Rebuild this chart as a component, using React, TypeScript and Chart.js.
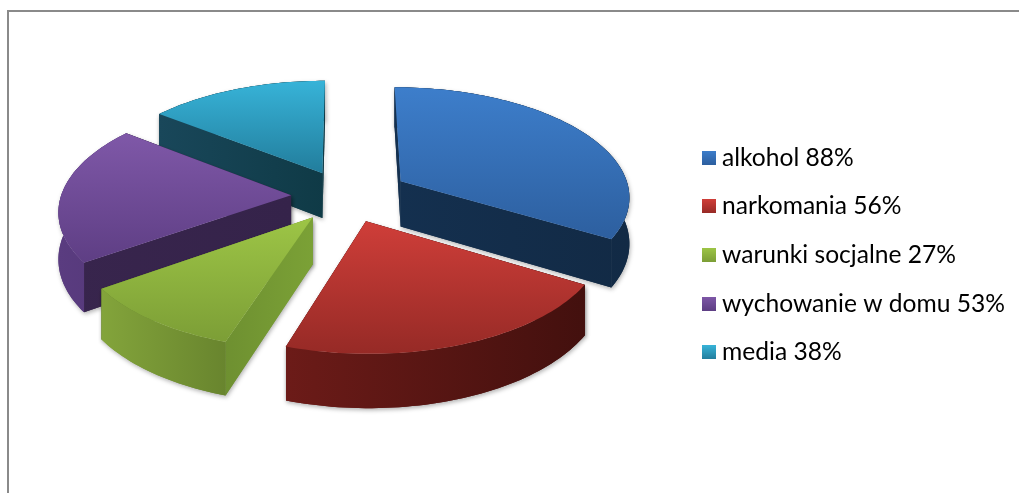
import React, { useEffect, useRef } from "react";
import { Chart, registerables } from "chart.js";

Chart.register(...registerables);

const categories = ["alkohol", "narkomania", "warunki socjalne", "wychowanie w domu", "media"];
const percentValues = [88, 56, 27, 53, 38];

const topLight = ["#3d7ecb", "#cf3e39", "#9dc546", "#7f58a8", "#37b3d8"];
const topDark = ["#2d5f9f", "#962a26", "#7c9e36", "#5e3e84", "#227d9c"];
const outerWallLeft = ["#14304f", "#6c1b18", "#83a43b", "#5a3c80", "#19475a"];
const outerWallRight = ["#122a45", "#43100e", "#566f25", "#472e66", "#0f3a46"];
const radialWallLeft = ["#14304f", "#6c1b18", "#5c7829", "#38254d", "#19475a"];
const radialWallRight = ["#122a45", "#43100e", "#7ba136", "#35234a", "#0f3a46"];

const PLANE_R = 230;
const CENTER_X = 346;
const CENTER_Y = 196;
const TILT = 0.475;
const PERSPECTIVE = 8;
const DEPTH = 46;

function project(x: number, y: number, lift = 0) {
  const s = (PERSPECTIVE * PLANE_R) / (PERSPECTIVE * PLANE_R - y);
  return { x: CENTER_X + x * s, y: CENTER_Y + TILT * y * s + lift * s };
}

function makeMarker(i: number) {
  const c = document.createElement("canvas");
  c.width = 14;
  c.height = 14;
  const g = c.getContext("2d")!;
  const grad = g.createLinearGradient(0, 0, 0, 14);
  grad.addColorStop(0, topLight[i]);
  grad.addColorStop(1, topDark[i]);
  g.fillStyle = grad;
  g.fillRect(0, 0, 14, 14);
  return c;
}

const pie3d = {
  id: "pie3d",
  beforeDatasetDraw(chart: any) {
    const ctx = chart.ctx;
    const arcs = chart.getDatasetMeta(0).data as any[];
    const pieces = arcs.map((arc, i) => {
      const scale = PLANE_R / arc.outerRadius;
      const mid = (arc.startAngle + arc.endAngle) / 2;
      const off = (arc.options.offset || 0) * scale;
      const ox = Math.cos(mid) * off;
      const oy = Math.sin(mid) * off;
      const steps = Math.max(8, Math.ceil((arc.endAngle - arc.startAngle) * 40));
      const rim: { x: number; y: number }[] = [];
      for (let k = 0; k <= steps; k++) {
        const a = arc.startAngle + ((arc.endAngle - arc.startAngle) * k) / steps;
        rim.push({ x: ox + Math.cos(a) * PLANE_R, y: oy + Math.sin(a) * PLANE_R });
      }
      return { i, ox, oy, rim, key: oy + Math.sin(mid) * PLANE_R * 0.6 };
    });
    pieces.sort((a, b) => a.key - b.key);

    const fillPoly = (pts: { x: number; y: number }[], fill: any) => {
      ctx.beginPath();
      pts.forEach((p, n) => (n ? ctx.lineTo(p.x, p.y) : ctx.moveTo(p.x, p.y)));
      ctx.closePath();
      ctx.fillStyle = fill;
      ctx.fill();
    };

    ctx.save();
    for (const { i, ox, oy, rim } of pieces) {
      const apexTop = project(ox, oy);
      const apexBottom = project(ox, oy, DEPTH);
      const top = [apexTop, ...rim.map((p) => project(p.x, p.y))];
      const xs = top.map((p) => p.x);
      const ys = top.map((p) => p.y);
      const minX = Math.min(...xs);
      const maxX = Math.max(...xs);
      const hGrad = (a: string, b: string) => {
        const g = ctx.createLinearGradient(minX, 0, maxX, 0);
        g.addColorStop(0, a);
        g.addColorStop(1, b);
        return g;
      };
      const first = rim[0];
      const last = rim[rim.length - 1];
      const radial = hGrad(radialWallLeft[i], radialWallRight[i]);
      const walls = () => {
        fillPoly([apexTop, project(first.x, first.y), project(first.x, first.y, DEPTH), apexBottom], radial);
        fillPoly([apexTop, project(last.x, last.y), project(last.x, last.y, DEPTH), apexBottom], radial);
        fillPoly(
          [...rim.map((p) => project(p.x, p.y)), ...rim.slice().reverse().map((p) => project(p.x, p.y, DEPTH))],
          hGrad(outerWallLeft[i], outerWallRight[i])
        );
      };
      ctx.shadowColor = "rgba(0,0,0,0.3)";
      ctx.shadowBlur = 4;
      ctx.shadowOffsetX = 1;
      ctx.shadowOffsetY = 2;
      walls();
      ctx.shadowColor = "transparent";
      ctx.shadowBlur = 0;
      ctx.shadowOffsetX = 0;
      ctx.shadowOffsetY = 0;
      walls();
      const vg = ctx.createLinearGradient(0, Math.min(...ys), 0, Math.max(...ys));
      vg.addColorStop(0, topLight[i]);
      vg.addColorStop(1, topDark[i]);
      fillPoly(top, vg);
    }
    ctx.restore();
    return false;
  },
};

export default function App() {
  const ref = useRef<HTMLCanvasElement>(null);
  useEffect(() => {
    const chart = new Chart(ref.current!, {
      type: "pie",
      data: {
        labels: categories,
        datasets: [{ data: percentValues, backgroundColor: topLight, borderWidth: 0, offset: [58, 50, 50, 50, 50] }],
      },
      plugins: [pie3d],
      options: {
        responsive: false,
        animation: false,
        layout: { padding: { top: 17, right: 4, bottom: 0, left: 0 } },
        plugins: {
          tooltip: { enabled: false },
          legend: {
            position: "right",
            labels: {
              usePointStyle: true,
              pointStyleWidth: 1,
              padding: 24,
              color: "#262626",
              font: { family: "Lato", size: 24.6 },
              generateLabels: () =>
                categories.map((c, i) => ({
                  text: `${c} ${percentValues[i]}%`,
                  fillStyle: topLight[i],
                  strokeStyle: topLight[i],
                  lineWidth: 0,
                  pointStyle: makeMarker(i),
                  index: i,
                  hidden: false,
                })),
            },
          },
        },
      },
    } as any);
    return () => chart.destroy();
  }, []);
  return (
    <div style={{ position: "fixed", left: 0, top: 0, width: 1019, height: 493, overflow: "hidden", background: "#fff" }}>
      <div
        style={{
          position: "absolute",
          left: 7,
          top: 10,
          width: 1100,
          height: 600,
          border: "2px solid #8a8a8a",
          boxSizing: "border-box",
        }}
      />
      <canvas ref={ref} width={1019} height={493} style={{ position: "absolute", left: 0, top: 0, display: "block" }} />
    </div>
  );
}
